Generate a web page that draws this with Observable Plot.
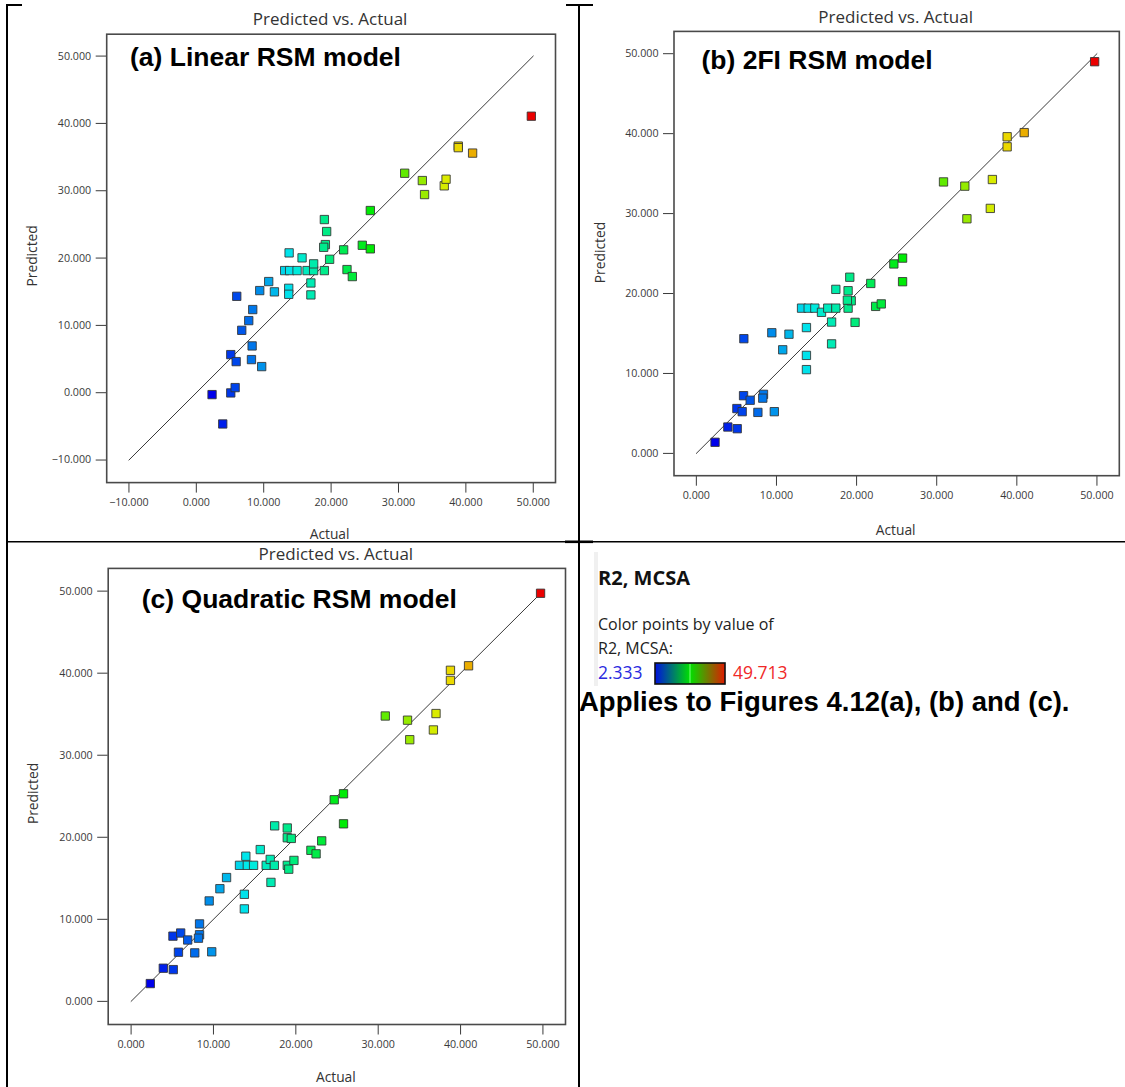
<!DOCTYPE html>
<html><head><meta charset="utf-8">
<script src="https://cdn.jsdelivr.net/npm/d3@7"></script>
<script src="https://cdn.jsdelivr.net/npm/@observablehq/plot@0.6"></script>
<style>
body{margin:0;background:#fff;}
#wrap{position:relative;width:1125px;height:1087px;overflow:hidden;background:#fff;}
#wrap svg{position:absolute;overflow:visible;background:transparent;}
</style></head><body><div id="wrap"></div>
<script>
// ---- data ----
const colorDomain = [2.333, 49.713];

const actualA = [2.333, 3.92, 5.11, 5.76, 5.11, 5.91, 6.00, 6.74, 7.78, 8.37, 8.28, 8.18, 9.70, 9.41, 10.74, 11.59, 13.77, 13.71, 13.71, 13.11, 13.85, 14.95, 15.69, 16.43, 17.41, 17.41, 17.00, 17.00, 19.00, 19.00, 19.34, 19.15, 18.90, 19.78, 21.86, 22.36, 23.15, 24.63, 25.82, 25.82, 30.92, 33.54, 33.87, 36.79, 37.06, 38.87, 38.87, 41.00, 49.713];
const predA   = [-0.28, -4.64, -0.03, 0.76, 5.66, 4.62, 14.32, 9.27, 10.71, 12.35, 6.95, 4.92, 3.88, 15.17, 16.51, 14.98, 20.77, 15.51, 14.62, 18.14, 18.14, 18.14, 20.03, 18.14, 18.14, 19.14, 16.30, 14.53, 18.14, 25.72, 23.94, 22.00, 21.60, 19.82, 21.22, 18.29, 17.25, 21.90, 21.37, 27.06, 32.60, 31.51, 29.43, 30.73, 31.71, 36.63, 36.40, 35.59, 41.07];

const actualB = [2.333, 3.93, 5.10, 5.06, 5.72, 5.89, 5.93, 6.72, 7.68, 8.38, 8.29, 9.73, 9.42, 10.78, 11.56, 13.74, 13.74, 13.74, 13.13, 13.96, 14.79, 15.62, 16.40, 17.41, 17.41, 16.88, 16.88, 18.94, 19.15, 18.94, 19.33, 18.85, 19.81, 21.77, 22.38, 23.08, 24.65, 25.74, 25.74, 30.85, 33.51, 33.77, 36.69, 36.95, 38.79, 38.79, 40.92, 49.713];
const predB   = [1.39, 3.30, 3.09, 5.61, 5.22, 7.22, 14.35, 6.65, 5.13, 7.39, 6.91, 5.22, 15.09, 12.96, 14.91, 15.74, 12.26, 10.48, 18.17, 18.17, 18.17, 17.65, 18.17, 18.17, 20.52, 16.43, 13.70, 18.17, 22.04, 20.35, 19.09, 19.17, 16.39, 21.26, 18.39, 18.70, 23.70, 24.43, 21.48, 33.96, 33.43, 29.35, 30.65, 34.26, 39.61, 38.35, 40.13, 49.00];

const actualC = [2.333, 3.91, 5.12, 5.08, 6.02, 5.75, 6.87, 7.73, 8.31, 8.31, 8.18, 9.79, 9.48, 10.78, 11.59, 13.75, 13.75, 13.93, 13.16, 14.11, 14.87, 15.68, 16.40, 16.89, 17.39, 17.43, 16.98, 18.96, 19.14, 18.96, 18.96, 19.45, 19.77, 21.83, 22.46, 23.14, 24.66, 25.79, 25.79, 30.86, 33.56, 33.83, 36.70, 37.02, 38.77, 38.77, 40.97, 49.713];
const predC   = [2.17, 4.04, 3.87, 7.95, 8.33, 5.99, 7.48, 5.91, 9.44, 8.12, 7.70, 6.04, 12.24, 13.73, 15.09, 13.05, 11.27, 17.69, 16.58, 16.58, 16.58, 18.50, 16.58, 17.30, 16.58, 21.39, 14.50, 16.58, 16.11, 21.13, 19.94, 19.86, 17.18, 18.41, 17.98, 19.56, 24.57, 25.30, 21.64, 34.78, 34.27, 31.89, 33.08, 35.08, 40.35, 39.12, 40.90, 49.74];

const ticksA = [-10, 0, 10, 20, 30, 40, 50];
const ticksBC = [0, 10, 20, 30, 40, 50];
const diagA = [-10, 50];
const diagBC = [0, 50];

const panelTitle = "Predicted vs. Actual";
const xLabel = "Actual";
const yLabel = "Predicted";
const panelTags = ["(a) Linear RSM model", "(b) 2FI RSM model", "(c) Quadratic RSM model"];
const legendTitle = "R2, MCSA";
const legendLines = ["Color points by value of", "R2, MCSA:"];
const noteText = "Applies to Figures 4.12(a), (b) and (c).";

// ---- drawing ----
const wrap = document.getElementById("wrap");
const hueColor = t => d3.hsl(240 * (1 - t), 1, 0.46).formatHex();

function panel(cfg) {
  const data = cfg.xs.map((x, i) => ({actual: x, predicted: cfg.ys[i]}));
  const el = Plot.plot({
    width: cfg.width, height: cfg.height,
    marginLeft: cfg.m[0], marginRight: cfg.m[1], marginTop: cfg.m[2], marginBottom: cfg.m[3],
    style: {fontFamily: "'Open Sans', sans-serif", fontSize: "10.7px", color: "#3a3a3a", background: "transparent", overflow: "visible"},
    x: {domain: cfg.xd, ticks: cfg.ticks, tickFormat: d3.format(".3f"), tickSize: 10.5, tickPadding: 5, label: null},
    y: {domain: cfg.yd, ticks: cfg.ticks, tickFormat: d3.format(".3f"), tickSize: 10.5, tickPadding: 5, label: null},
    color: {type: "linear", domain: colorDomain, interpolate: hueColor},
    marks: [
      Plot.frame({stroke: "#4a4a4a", strokeWidth: 1.6}),
      Plot.line(cfg.diag, {x: d => d, y: d => d, stroke: "#3a3a3a", strokeWidth: 1}),
      Plot.dot(data, {x: "actual", y: "predicted", fill: "actual", symbol: "square", r: 4.7, stroke: "#333", strokeOpacity: 0.85, strokeWidth: 1}),
      Plot.text([panelTitle], {text: d => d, frameAnchor: "top", dx: cfg.title[0], dy: cfg.title[1], lineAnchor: "middle", fontSize: 17, fill: "#333"}),
      Plot.text([xLabel], {text: d => d, frameAnchor: "bottom", dx: cfg.xl[0], dy: cfg.xl[1], lineAnchor: "middle", fontSize: 13.8, fill: "#333"}),
      Plot.text([yLabel], {text: d => d, frameAnchor: "left", dx: cfg.yl[0], dy: cfg.yl[1], rotate: -90, textAnchor: "middle", lineAnchor: "middle", fontSize: 13.8, fill: "#333"}),
      Plot.text([cfg.tag], {text: d => d, frameAnchor: "top-left", dx: cfg.tagPos[0], dy: cfg.tagPos[1], textAnchor: "start", lineAnchor: "middle", fontSize: 26.5, fontWeight: "bold", fontFamily: "'Liberation Sans', Arial, sans-serif", fill: "#000"})
    ]
  });
  el.style.position = "absolute";
  el.style.left = cfg.left + "px";
  el.style.top = cfg.top + "px";
  wrap.appendChild(el);
}

panel({xs: actualA, ys: predA, left: 0, top: 0, width: 578, height: 541, m: [106.2, 23, 33.7, 58.9],
  xd: [-13.3, 53.3], yd: [-13.35, 53.25], ticks: ticksA, diag: diagA, tag: panelTags[0],
  tagPos: [23.3, 23.3], title: [-1, -14.7], xl: [-1.5, 51.5], yl: [-73.7, -2.5]});
panel({xs: actualB, ys: predB, left: 578, top: 0, width: 547, height: 541, m: [95.5, 6.2, 30.9, 65.8],
  xd: [-2.79, 52.79], yd: [-2.79, 52.79], ticks: ticksBC, diag: diagBC, tag: panelTags[1],
  tagPos: [27.5, 29], title: [-1, -14.2], xl: [-1, 55], yl: [-73.8, -1]});
panel({xs: actualC, ys: predC, left: 0, top: 541, width: 578, height: 546, m: [107.7, 13, 26.9, 63],
  xd: [-2.78, 52.74], yd: [-2.82, 52.77], ticks: ticksBC, diag: diagBC, tag: panelTags[2],
  tagPos: [33.6, 30.7], title: [-1, -13.4], xl: [-1, 53], yl: [-75.1, -3]});

// ---- overlay: table borders + colour legend ----
const ov = d3.select(wrap).append("svg").attr("width", 1125).attr("height", 1087)
  .style("left", "0px").style("top", "0px");
const line = (x1, y1, x2, y2, w) => ov.append("line").attr("x1", x1).attr("y1", y1).attr("x2", x2).attr("y2", y2)
  .attr("stroke", "#000").attr("stroke-width", w);
line(7, 4, 7, 1087, 2);
line(6, 5, 22, 5, 2);
line(566, 5, 593, 5, 2);
line(579, 4, 579, 1087, 2);
line(6, 541.8, 1125, 541.8, 1.6);
line(565, 541.8, 593, 541.8, 2.6);

// legend box edge
ov.append("rect").attr("x", 594).attr("y", 552).attr("width", 4).attr("height", 134).attr("fill", "#f0f0f0");

const lg = ov.append("g").attr("font-family", "'Open Sans', sans-serif");
lg.append("text").attr("x", 598).attr("y", 585).attr("font-size", 20).attr("font-weight", "bold").attr("fill", "#111").text(legendTitle);
lg.append("text").attr("x", 598).attr("y", 630).attr("font-size", 16).attr("fill", "#222").text(legendLines[0]);
lg.append("text").attr("x", 598).attr("y", 654).attr("font-size", 16).attr("fill", "#222").text(legendLines[1]);
lg.append("text").attr("x", 598).attr("y", 679).attr("font-size", 17.5).attr("fill", "#2a2ae0").text(colorDomain[0].toFixed(3));
lg.append("text").attr("x", 733).attr("y", 679).attr("font-size", 17.5).attr("fill", "#f02828").text(colorDomain[1].toFixed(3));

const grad = ov.append("defs").append("linearGradient").attr("id", "lgGrad");
[["0%", "#0010e0"], ["50%", "#00e000"], ["100%", "#e01a00"]].forEach(([o, c]) =>
  grad.append("stop").attr("offset", o).attr("stop-color", c));
ov.append("rect").attr("x", 655).attr("y", 663).attr("width", 70).attr("height", 21)
  .attr("fill", "url(#lgGrad)").attr("stroke", "#111").attr("stroke-width", 1.6);
ov.append("line").attr("x1", 690).attr("x2", 690).attr("y1", 664).attr("y2", 683).attr("stroke", "#7dff7d").attr("stroke-width", 1);

ov.append("text").attr("x", 579).attr("y", 711).attr("font-size", 27.5).attr("font-weight", "bold")
  .attr("font-family", "'Liberation Sans', Arial, sans-serif").attr("fill", "#000").text(noteText);
</script></body></html>
